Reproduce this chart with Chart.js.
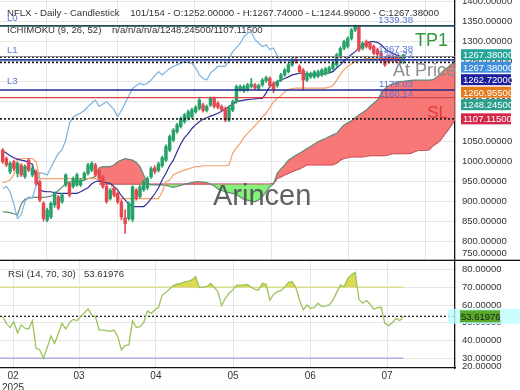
<!DOCTYPE html>
<html>
<head>
<meta charset="utf-8">
<script src="https://cdn.jsdelivr.net/npm/chart.js@4.4.1/dist/chart.umd.min.js"></script>
<style>
  body { margin: 0; background: #fff; }
  #wrap { position: relative; width: 520px; height: 390px; overflow: hidden; }
  canvas { position: absolute; left: 0; }
  #main { top: 0; }
  #rsi { top: 261px; }
</style>
</head>
<body>
<div id="wrap">
  <canvas id="main" width="520" height="261"></canvas>
  <canvas id="rsi" width="520" height="129"></canvas>
</div>
<script>
// x axis (bar index) range and month ticks
const X_MIN = -0.72, X_MAX = 121.9;
const monthPos = [2.8, 20.6, 41.3, 62.1, 82.9, 103.6];
const monthLabels = [['02', '2025'], '03', '04', '05', '06', '07'];
const priceTicks = [800, 850, 900, 950, 1000, 1050, 1100, 1150, 1200, 1250, 1300, 1350, 1400];
const rsiTicks = [30, 40, 50, 60, 70, 80];

// daily candles
const opens = [1029,1008,975,1000,971,992,963,1004,967,975, 950,896,854,862,892,912,900,942,946,938,
  942,942,958,971,979,992,979,962,938,908, 933,921,900,860,858,856,929,913,930,935,
  962,985,978,990,1004,1029,1054,1075,1088,1100, 1108,1112,1125,1133,1142,1128,1142,1158,1146,1138,
  1133,1104,1129,1150,1180,1177,1180,1188,1192,1183, 1192,1202,1208,1196,1190,1204,1217,1225,1242,1255,
  1238,1229,1204,1212,1212,1214,1217,1220,1225,1233, 1242,1263,1283,1288,1308,1329,1338,1283,1300,1296,
  1288,1280,1271,1258,1263,1262,1260,1258,1252];
const highs = [1033,1012,1000,1004,999,995,992,1008,990,979, 954,900,884,900,925,916,921,970,950,962,
  971,958,975,996,1000,996,983,966,942,933, 938,925,905,880,900,940,933,941,954,962,
  987,990,999,1014,1042,1067,1083,1096,1112,1121, 1129,1134,1140,1158,1146,1142,1162,1162,1150,1142,
  1137,1139,1154,1192,1192,1192,1196,1208,1196,1194, 1208,1214,1212,1200,1204,1221,1233,1246,1259,1262,
  1242,1233,1225,1224,1228,1229,1233,1236,1239,1250, 1271,1287,1304,1312,1333,1341,1340,1300,1304,1300,
  1292,1284,1275,1262,1266,1265,1263,1262,1267.74];
const lows = [996,988,970,978,962,963,958,975,962,942, 900,852,850,858,886,880,896,938,912,934,
  938,938,954,967,975,962,954,933,896,904, 912,895,855,821,854,850,904,909,926,930,
  958,970,974,986,1000,1025,1050,1071,1084,1096, 1104,1108,1121,1129,1124,1124,1138,1134,1132,1126,
  1100,1100,1125,1146,1176,1173,1176,1184,1180,1179, 1188,1198,1186,1172,1186,1200,1213,1221,1238,1246,
  1221,1179,1200,1208,1208,1210,1213,1216,1221,1229, 1238,1259,1279,1284,1304,1325,1275,1279,1284,1279,
  1267,1262,1250,1238,1246,1249,1248,1246,1244.99];
const closes = [1000,992,996,983,996,967,988,979,983,946, 904,858,879,896,921,884,917,967,917,958,
  967,954,971,992,996,967,958,938,900,929, 917,900,862,845,896,937,908,937,950,958,
  983,975,995,1010,1038,1063,1079,1092,1108,1117, 1125,1130,1136,1154,1128,1138,1158,1138,1136,1130,
  1104,1135,1150,1188,1188,1188,1192,1194,1184,1190, 1204,1210,1190,1182,1200,1217,1229,1242,1255,1250,
  1225,1204,1221,1220,1224,1225,1229,1232,1235,1246, 1267,1283,1300,1308,1329,1338,1279,1296,1288,1283,
  1271,1268,1254,1242,1250,1254,1252,1252,1267.38];

// ichimoku (9, 26, 52)
const tenkan = [1027,1022,1015,1010,1006,1004,1002,998,994,960, 930,926,925,925,922,921,921,921,921,921,
  921,925,930,935,945,950,952,950,948,946, 938,929,915,904,894,888,888,888,888,896,
  908,920,935,955,971,990,1004,1025,1045,1060, 1070,1083,1092,1100,1106,1110,1114,1117,1121,1126,
  1132,1138,1144,1150,1152,1154,1155,1156,1157,1158, 1158,1172,1188,1194,1199,1204,1208,1212,1217,1219,
  1221,1221,1219,1218,1217,1217,1218,1220,1222,1225, 1234,1242,1252,1260,1268,1275,1285,1290,1296,1300,
  1300,1298,1292,1283,1276,1271,1267,1264,1262.72];
const kijun = [948,950,955,967,1008,1008,1008,1008,1008,1000, 958,958,958,958,958,958,958,958,958,958,
  958,958,958,958,958,958,952,950,950,950, 920,908,908,908,908,908,908,908,908,908,
  908,908,908,925,950,954,967,972,976,979, 982,985,988,988,990,990,990,990,990,990,
  990,992,1021,1035,1046,1060,1071,1080,1090,1100, 1112,1121,1135,1150,1158,1165,1175,1180,1183,1184,
  1184,1184,1184,1184,1184,1184,1184,1184,1186,1190, 1204,1218,1230,1238,1245,1250,1254,1256,1258,1258,
  1258,1258,1259,1259,1260,1260,1261,1261,1260.955];
const chikou = [933,938,925,895,858,868,900,912,909,940, 972,971,967,985,1004,1020,1030,1054,1096,1112,
  1117,1121,1128,1138,1146,1154,1138,1144,1150,1140, 1130,1113,1128,1146,1165,1183,1190,1196,1192,1196,
  1204,1215,1225,1217,1225,1233,1238,1242,1246,1250, 1248,1246,1235,1217,1208,1204,1222,1229,1238,1238,
  1238,1258,1275,1285,1296,1312,1321,1325,1305,1296, 1288,1292,1280,1284,1265,1246];
const senkouA = [875,874,873,870,867,895,906,909,911,911, 911,911,912,914,920,928,936,946,950,950,
  950,952,954,958,960,963,985,988,988,988, 992,1000,1004,1008,1006,1004,998,988,967,946,
  942,942,942,942,941,938,936,938,941,944, 946,948,950,950,949,948,944,940,932,928,
  925,923,921,918,912,906,904,902,900,905, 913,925,938,944,971,982,992,1004,1010,1016,
  1021,1027,1033,1038,1044,1050,1054,1058,1063,1067, 1071,1082,1092,1097,1102,1110,1117,1123,1129,1138,
  1146,1154,1170,1182,1190,1194,1197,1200,1201,1202, 1203,1204,1204,1204,1204,1204,1205,1212,1220,1229,
  1236,1244,1248.245];
const senkouBStart = 26;
const senkouB = [944,944,944,944,944,944,944,944,944,944, 944,944,944,944,944,944,944,944,944,944,
  944,944,944,944,944,944,944,944,944,944, 944,944,944,944,944,944,944,944,944,944,
  944,944,944,944,944,944,944,
  946,958,962,967,971,975,979,982,987,992, 992,992,992,992,992,992,992,996,1004,1008,
  1010,1012,1012,1012,1012,1013,1015,1015,1015,1015, 1015,1017,1020,1020,1020,1020,1020,1021,1025,1028,
  1028,1028,1030,1040,1046,1054,1067,1079,1092,1107.115];

// horizontal levels and last-value tags
const levelValues = [1339.38, 1262.72, 1260.955, 1254.5, 1248.245, 1179.03, 1160.14, 1107.115];
const tagValues = [1267.38, 1267.38, 1262.72, 1260.955, 1248.245, 1107.115];

// RSI (14)
const rsi = [53.5,49.5,47.4,50.6,44.4,48.7,46.9,46.5,51.2,35.6, 34.7,30.0,36.0,42.5,38.4,44.0,49.7,46.5,50.0,51.9,
  51.2,53.4,55.5,57.8,54.4,53.4,45.9,45.8,45.6,45.2, 45.9,42.2,34.7,37.1,37.5,51.0,47.4,47.8,50.1,56.6,
  55.3,57.2,58.7,65.6,67.0,69.0,70.9,71.7,72.2,73.0, 73.5,74.1,76.0,69.8,70.1,70.3,72.2,70.0,67.5,59.6,
  63.8,66.6,68.5,71.1,71.2,71.3,71.5,70.0,68.8,68.5, 72.2,71.7,62.8,66.0,67.5,68.1,70.0,72.6,73.2,69.8,
  63.0,57.2,60.0,58.1,58.7,61.0,59.1,59.5,60.0,62.8, 67.0,71.3,70.3,75.0,77.1,78.4,63.2,61.0,62.5,60.6,
  57.6,58.5,58.7,49.7,48.4,50.0,52.5,51.2,53.62];
const rsiLast = 53.61976;

const FONT = "'Liberation Sans', Arial, sans-serif";
const UP = '#26a269', DOWN = '#e5484f';
const GRID = '#e6e6e6';

const pts = (arr, start = 0) => arr.map((v, i) => ({ x: i + start, y: v }));
const flat = (v, x0 = X_MIN, x1 = X_MAX) => [{ x: x0, y: v }, { x: x1, y: v }];
const candleColor = ctx => closes[ctx.dataIndex] >= opens[ctx.dataIndex] ? UP : DOWN;
// keep the plot flush with the canvas edges
const noPad = s => { s.paddingTop = 0; s.paddingBottom = 0; s.paddingLeft = 0; s.paddingRight = 0; };

const levelStyle = [
  { c: '#1d4b5c', w: 1.8, d: [] },
  { c: '#8c8c8c', w: 1, d: [] },
  { c: '#222', w: 1.6, d: [2, 2] },
  { c: '#2b3f9e', w: 1.6, d: [] },
  { c: '#222', w: 1.6, d: [2, 2] },
  { c: '#1f2b8c', w: 1.5, d: [] },
  { c: '#d24545', w: 1.3, d: [] },
  { c: '#222', w: 1.6, d: [2, 2] }
];
const tagColors = ['#26a69a', '#3f8fdc', '#1d1f9c', '#e37b1c', '#2b9e8c', '#d3284a'];

function line(data, color, width, extra = {}) {
  return Object.assign({ type: 'line', data, borderColor: color, borderWidth: width,
    pointRadius: 0, tension: 0, fill: false }, extra);
}

const levelSets = levelValues.map((v, i) =>
  line(flat(v), levelStyle[i].c, levelStyle[i].w, { borderDash: levelStyle[i].d, order: -1 }));

function text(ctx, str, x, y, font, color, align = 'left') {
  ctx.font = font;
  ctx.fillStyle = color;
  ctx.textAlign = align;
  ctx.textBaseline = 'alphabetic';
  ctx.fillText(str, x, y);
}

const mainOverlay = {
  id: 'mainOverlay',
  beforeDatasetsDraw(chart) {
    const ctx = chart.ctx;
    ctx.save();
    text(ctx, 'NFLX - Daily - Candlestick    101/154 - O:1252.00000 - H:1267.74000 - L:1244.99000 - C:1267.38000',
      7, 16, '9.6px ' + FONT, '#333');
    text(ctx, 'ICHIMOKU (9, 26, 52)    n/a/n/a/n/a/1248.24500/1107.11500', 7, 33, '9.6px ' + FONT, '#333');
    ctx.restore();
  },
  afterDraw(chart) {
    const ctx = chart.ctx, y = chart.scales.y, area = chart.chartArea;
    ctx.save();
    // level names and values on the lines
    const lf = '9.6px ' + FONT, lc = '#5b74d6';
    text(ctx, 'L0', 7, y.getPixelForValue(levelValues[0]) - 5, lf, lc);
    text(ctx, 'L1', 7, y.getPixelForValue(levelValues[1]) - 4, lf, lc);
    text(ctx, 'L3', 7, y.getPixelForValue(levelValues[5]) - 6, lf, lc);
    text(ctx, levelValues[0].toFixed(2), 413, y.getPixelForValue(levelValues[0]) - 3, lf, lc, 'right');
    text(ctx, '1267.38', 413, y.getPixelForValue(1267.38) - 3, lf, lc, 'right');
    text(ctx, levelValues[1].toFixed(2), 413, y.getPixelForValue(levelValues[1]) + 1, lf, lc, 'right');
    text(ctx, levelValues[5].toFixed(2), 413, y.getPixelForValue(levelValues[5]) - 3, lf, lc, 'right');
    text(ctx, levelValues[6].toFixed(2), 413, y.getPixelForValue(levelValues[6]) - 1, lf, lc, 'right');

    // big marks
    ctx.save();
    ctx.beginPath();
    ctx.rect(area.left, area.top, area.right - area.left, area.bottom - area.top);
    ctx.clip();
    text(ctx, 'TP1', 448, 46, '18px ' + FONT, '#2f9a3c', 'right');
    text(ctx, 'At Price', 393, 76, '18px ' + FONT, '#8b8b8b');
    text(ctx, 'SL', 448, 118, '17px ' + FONT, '#e33a3a', 'right');
    text(ctx, 'Arincen', 213, 205, '29px ' + FONT, 'rgba(80,80,80,0.9)');
    ctx.restore();

    // value tags on the price axis
    let prev = -100;
    tagValues.forEach((v, i) => {
      let py = Math.max(y.getPixelForValue(v), prev + 12.5);
      prev = py;
      ctx.fillStyle = tagColors[i];
      ctx.fillRect(area.right + 6, py - 5.5, 50, 11);
      text(ctx, v.toFixed(5), area.right + 8, py + 3.5, '9.5px ' + FONT, '#fff');
    });
    // clamped bottom label
    text(ctx, '750.00000', area.right + 7, area.bottom - 5, '9.5px ' + FONT, '#333');
    // panel separator
    ctx.fillStyle = '#111';
    ctx.fillRect(0, area.bottom - 1.3, 520, 1.3);
    ctx.restore();
  }
};

new Chart(document.getElementById('main'), {
  type: 'line',
  data: {
    datasets: [
      { type: 'bar', data: closes.map((c, i) => ({ x: i, y: [opens[i], c] })),
        backgroundColor: candleColor, barThickness: 2.8, minBarLength: 1, grouped: false, order: 0 },
      { type: 'bar', data: closes.map((c, i) => ({ x: i, y: [lows[i], highs[i]] })),
        backgroundColor: candleColor, barThickness: 1, grouped: false, order: 1 },
      ...levelSets,
      line(pts(tenkan), '#2f2f96', 1.2, { order: 3 }),
      line(pts(kijun), '#f4a06c', 1.2, { order: 3 }),
      line(pts(chikou), '#7db3df', 1.2, { order: 3 }),
      line(pts(senkouA), '#5e8a74', 1.2, { order: 4,
        fill: { target: '+1', above: 'rgba(246,90,90,0.82)', below: 'rgba(110,240,100,0.85)' } }),
      line(pts(senkouB, senkouBStart), '#c8345a', 1.2, { order: 5 })
    ]
  },
  options: {
    responsive: false, animation: false, devicePixelRatio: 1,
    layout: { padding: 0 },
    plugins: { legend: { display: false }, tooltip: { enabled: false } },
    scales: {
      x: {
        type: 'linear', min: X_MIN, max: X_MAX, offset: false,
        afterBuildTicks: s => { s.ticks = monthPos.map(v => ({ value: v })); },
        ticks: { display: false },
        grid: { color: GRID, drawTicks: false },
        border: { display: false },
        afterFit: s => { s.height = 0; noPad(s); }
      },
      y: {
        position: 'right', min: 752, max: 1404,
        afterBuildTicks: s => { s.ticks = priceTicks.map(v => ({ value: v })); },
        ticks: { callback: v => v.toFixed(5), color: '#333', font: { family: FONT, size: 9.5 }, padding: 7 },
        grid: { color: GRID, drawTicks: false },
        border: { color: '#111', width: 1.3 },
        afterFit: s => { s.width = 65; noPad(s); }
      }
    }
  },
  plugins: [mainOverlay]
});

const rsiOverlay = {
  id: 'rsiOverlay',
  beforeDatasetsDraw(chart) {
    const ctx = chart.ctx;
    ctx.save();
    text(ctx, 'RSI (14, 70, 30)', 8, 16, '9.6px ' + FONT, '#333');
    text(ctx, rsiLast.toFixed(5), 84, 16, '9.6px ' + FONT, '#333');
    ctx.restore();
  },
  afterDraw(chart) {
    const ctx = chart.ctx, y = chart.scales.y, area = chart.chartArea;
    const py = y.getPixelForValue(rsiLast);
    ctx.save();
    ctx.fillStyle = 'rgba(190,255,255,0.8)';
    ctx.fillRect(area.right - 7, py - 7.5, 520 - area.right + 7, 15);
    ctx.fillStyle = '#58a82a';
    ctx.fillRect(area.right + 5, py - 6, 40, 12);
    text(ctx, rsiLast.toFixed(5), area.right + 6, py + 3.5, '9.5px ' + FONT, '#1f1f1f');
    text(ctx, '20.00000', area.right + 7, area.bottom + 1, '9.5px ' + FONT, '#333');
    ctx.restore();
  }
};

new Chart(document.getElementById('rsi'), {
  type: 'line',
  data: {
    datasets: [
      line(pts(rsi), '#9cc35a', 1.3, { order: 0,
        fill: { target: { value: 70 }, above: 'rgba(214,214,66,0.9)', below: 'rgba(0,0,0,0)' } }),
      line(flat(70, X_MIN, rsi.length - 1), '#dede9c', 1.6, { order: 2 }),
      line(flat(30, X_MIN, rsi.length - 1), '#b6aae6', 1.6, { order: 2 }),
      line(flat(rsiLast), '#111', 1.2, { borderDash: [2, 2], order: 1 })
    ]
  },
  options: {
    responsive: false, animation: false, devicePixelRatio: 1,
    layout: { padding: 0 },
    plugins: { legend: { display: false }, tooltip: { enabled: false } },
    scales: {
      x: {
        type: 'linear', min: X_MIN, max: X_MAX, offset: false,
        afterBuildTicks: s => { s.ticks = monthPos.map(v => ({ value: v })); },
        ticks: { autoSkip: false, maxRotation: 0, padding: 2, color: '#333',
          font: { family: FONT, size: 10 }, callback: (v, i) => monthLabels[i] },
        grid: { color: GRID, drawTicks: false },
        border: { color: '#111', width: 1.3 },
        afterFit: s => { s.height = 22; noPad(s); }
      },
      y: {
        position: 'right', min: 24.5, max: 84.8,
        afterBuildTicks: s => { s.ticks = rsiTicks.map(v => ({ value: v })); },
        ticks: { callback: v => v.toFixed(5), color: '#333', font: { family: FONT, size: 9.5 }, padding: 7 },
        grid: { color: GRID, drawTicks: false },
        border: { color: '#111', width: 1.3 },
        afterFit: s => { s.width = 65; noPad(s); }
      }
    }
  },
  plugins: [rsiOverlay]
});
</script>
</body>
</html>
